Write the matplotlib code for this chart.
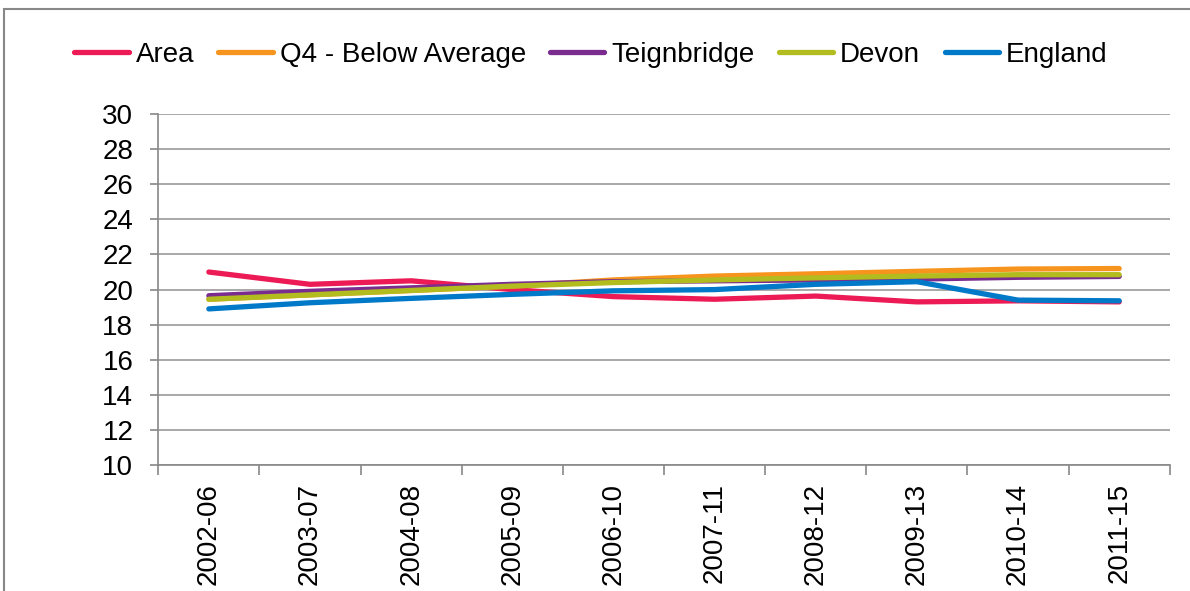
import matplotlib
matplotlib.use("Agg")
import matplotlib.pyplot as plt
from matplotlib.patches import Rectangle

plt.rcParams['font.family'] = ['Liberation Sans', 'DejaVu Sans']

categories = ["2002-06", "2003-07", "2004-08", "2005-09", "2006-10",
              "2007-11", "2008-12", "2009-13", "2010-14", "2011-15"]
area = [21.0, 20.3, 20.5, 20.0, 19.6, 19.45, 19.63, 19.3, 19.36, 19.3]
q4 = [19.45, 19.7, 19.95, 20.2, 20.55, 20.77, 20.9, 21.04, 21.17, 21.2]
teignbridge = [19.65, 19.9, 20.1, 20.3, 20.45, 20.5, 20.55, 20.6, 20.7, 20.75]
devon = [19.45, 19.7, 19.95, 20.2, 20.4, 20.55, 20.67, 20.77, 20.85, 20.85]
england = [18.9, 19.25, 19.5, 19.73, 19.93, 20.0, 20.3, 20.45, 19.4, 19.36]
yticks = list(range(10, 31, 2))

series = [
    ("Area", area, "#ED1B55"),
    ("Q4 - Below Average", q4, "#F7941D"),
    ("Teignbridge", teignbridge, "#7B2C8F"),
    ("Devon", devon, "#B3BC1E"),
    ("England", england, "#0079C9"),
]

fig = plt.figure(figsize=(11.9, 5.91), dpi=100)
ax = fig.add_axes([0.133, 0.213, 0.850, 0.594])

x = list(range(len(categories)))
for name, vals, col in series:
    ax.plot(x, vals, color=col, lw=3.8, label=name, solid_capstyle='round')

ax.set_xlim(-0.5, len(categories) - 0.5)
ax.set_ylim(10, 30)
ax.set_yticks(yticks)
ax.set_yticklabels([str(t) for t in yticks], fontsize=20)
ax.set_xticks(x)
ax.set_xticklabels(categories, rotation=90, fontsize=20, va='top')
ax.tick_params(axis='x', length=0, pad=13)
ax.set_xticks([i - 0.5 for i in range(len(categories) + 1)], minor=True)
ax.tick_params(axis='x', which='minor', length=7, color='#888888', width=1.2)
ax.tick_params(axis='y', length=6, color='#888888', width=1.2, pad=12)
ax.grid(axis='y', color='#999999', lw=1.2)
ax.set_axisbelow(True)
for s in ['top', 'right']:
    ax.spines[s].set_visible(False)
for s in ['left', 'bottom']:
    ax.spines[s].set_color('#888888')
    ax.spines[s].set_linewidth(1.2)

fig.legend(loc='center', bbox_to_anchor=(0.4965, 0.907), ncol=5, frameon=False,
           fontsize=20, handlelength=1.95, handletextpad=0.25, columnspacing=0.88)

fig.patches.append(Rectangle((0.003, -0.1), 1.2, 1.085, transform=fig.transFigure,
                             fill=False, edgecolor='#888888', lw=1.5))

fig.savefig("out.png", dpi=100)
